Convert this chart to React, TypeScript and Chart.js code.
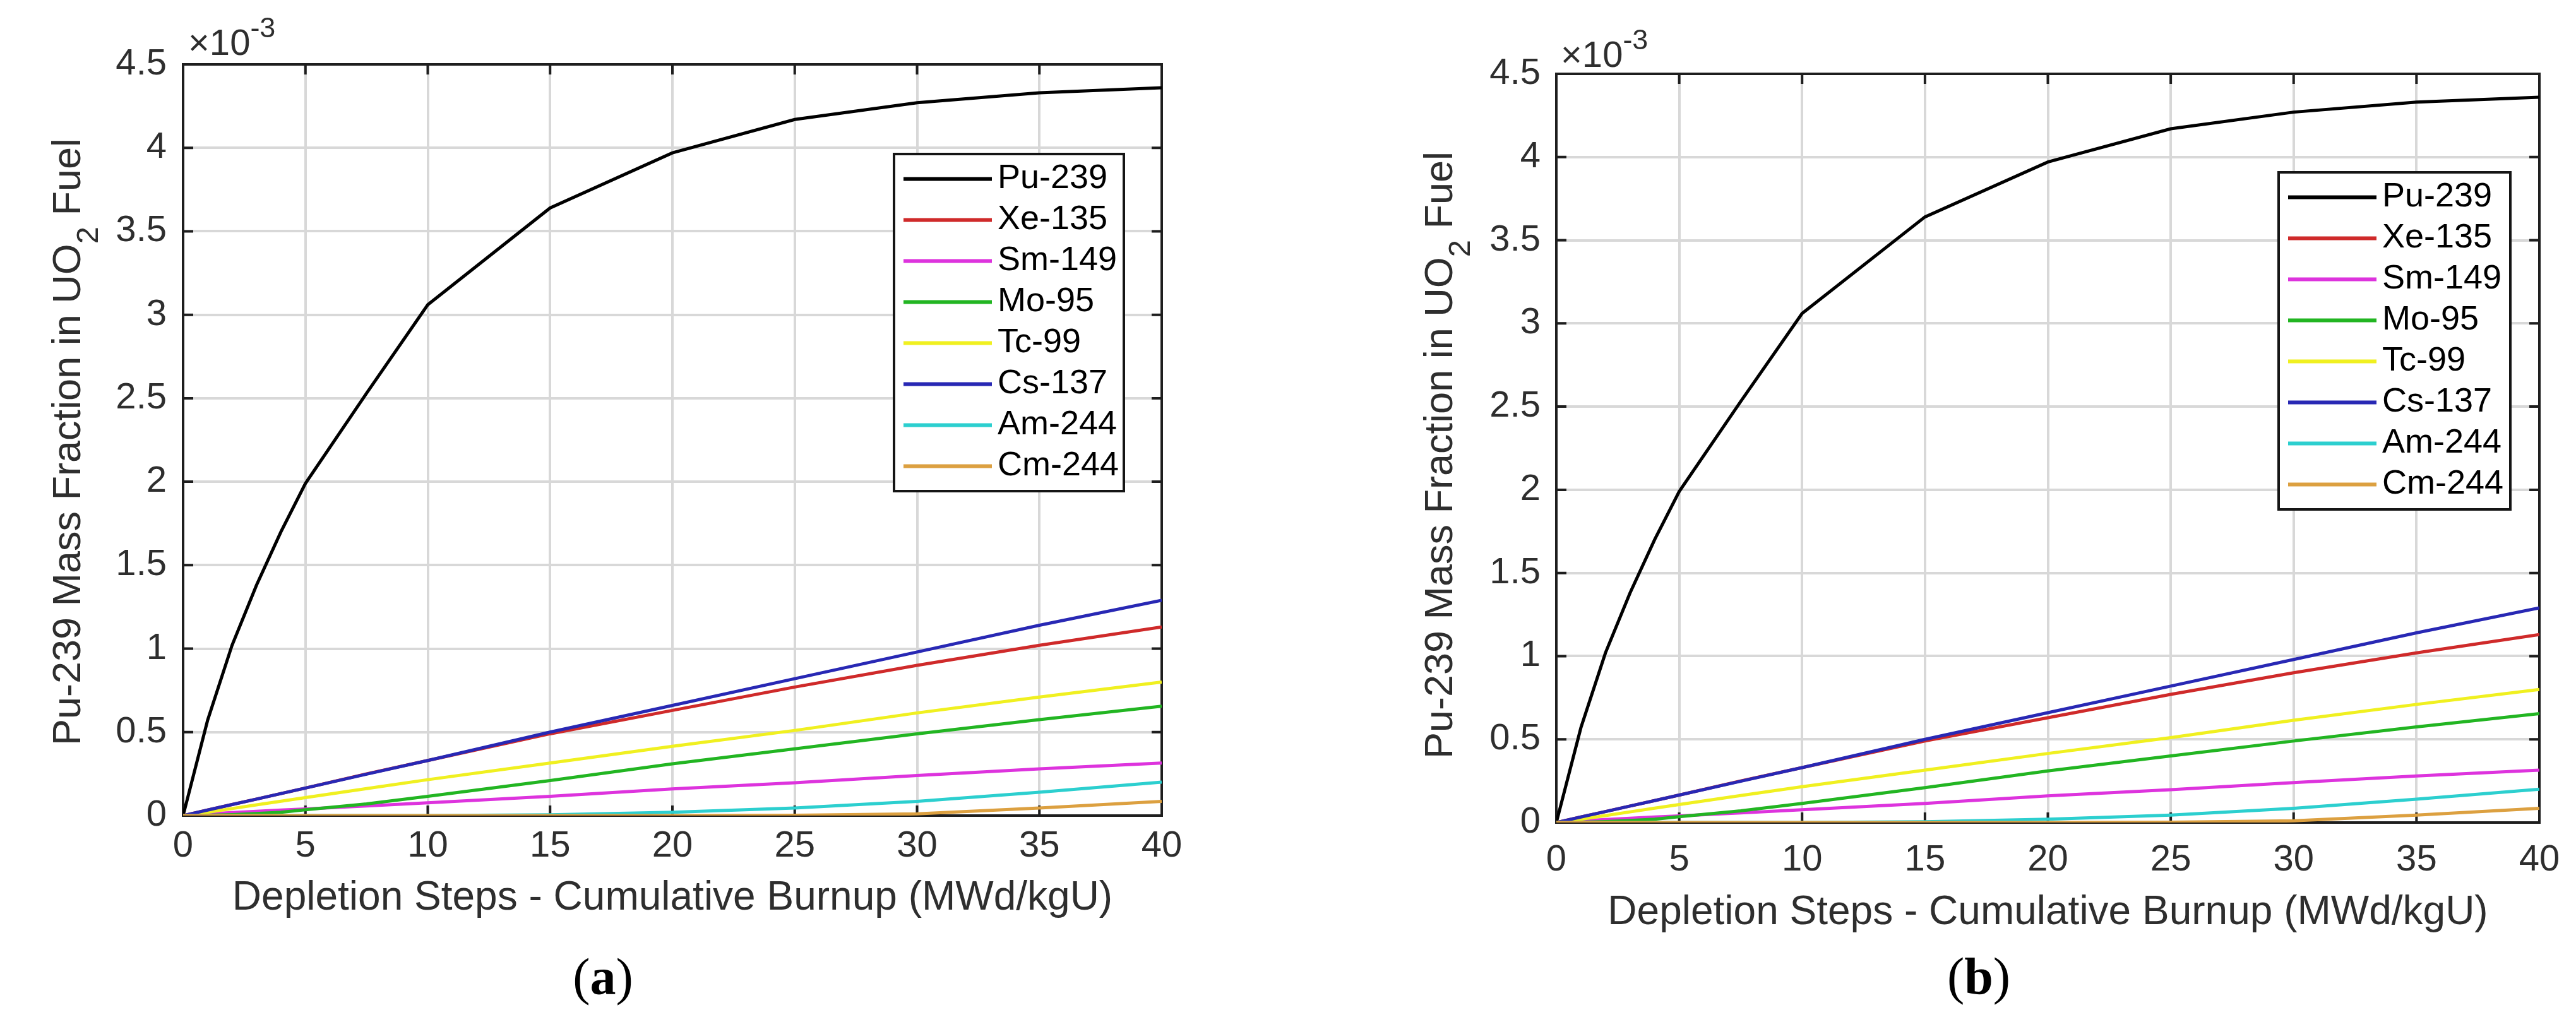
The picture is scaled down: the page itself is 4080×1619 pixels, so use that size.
import React, { useEffect, useRef } from "react";
import { Chart, Plugin, registerables } from "chart.js";

Chart.register(...registerables);

// cumulative burnup at each depletion step (MWd/kgU)
const burnup = [0, 1, 2, 3, 4, 5, 7.5, 10, 15, 20, 25, 30, 35, 40];

// mass fractions in UO2 fuel, in units of 1e-3
const pu239 = [0, 0.57, 1.02, 1.38, 1.7, 1.99, 2.53, 3.06, 3.64, 3.97, 4.17, 4.27, 4.33, 4.36];
const xe135 = [0, 0.033, 0.066, 0.099, 0.132, 0.165, 0.25, 0.33, 0.49, 0.63, 0.77, 0.9, 1.02, 1.13];
const sm149 = [0, 0.01, 0.018, 0.026, 0.033, 0.04, 0.058, 0.077, 0.115, 0.16, 0.197, 0.24, 0.28, 0.315];
const mo95 = [0, 0.002, 0.006, 0.012, 0.02, 0.035, 0.07, 0.115, 0.21, 0.31, 0.4, 0.49, 0.575, 0.655];
const tc99 = [0, 0.02, 0.042, 0.064, 0.086, 0.108, 0.162, 0.215, 0.315, 0.415, 0.51, 0.615, 0.71, 0.8];
const cs137 = [0, 0.033, 0.066, 0.099, 0.132, 0.165, 0.248, 0.33, 0.5, 0.66, 0.82, 0.98, 1.14, 1.29];
const am244 = [0, 0, 0, 0, 0, 0, 0, 0, 0.005, 0.02, 0.045, 0.085, 0.14, 0.2];
const cm244 = [0, 0, 0, 0, 0, 0, 0, 0, 0, 0, 0.002, 0.01, 0.045, 0.085];

const nuclides = ["Pu-239", "Xe-135", "Sm-149", "Mo-95", "Tc-99", "Cs-137", "Am-244", "Cm-244"];
const series = [pu239, xe135, sm149, mo95, tc99, cs137, am244, cm244];
const colors = ["#000000", "#cf2a2a", "#dd33dd", "#22b522", "#f0f020", "#2828b4", "#2ccfcf", "#dca040"];

const xTicks = [0, 5, 10, 15, 20, 25, 30, 35, 40];
const yTicks = [0, 0.5, 1, 1.5, 2, 2.5, 3, 3.5, 4, 4.5];

const xTitle = "Depletion Steps - Cumulative Burnup (MWd/kgU)";
const yTitleHead = "Pu-239 Mass Fraction in UO";
const yTitleSub = "2";
const yTitleTail = " Fuel";

const FONT = "'Liberation Sans', Arial, Helvetica, sans-serif";
const SERIF = "'Liberation Serif', 'Times New Roman', serif";
const TEXT = "#2e2e2e";
const AXIS = "#1e1e1e";
const GRID = "#d8d8d8";
const W = 2040;
const H = 1619;

type PanelGeom = {
  letter: string;
  left: number;
  area: { left: number; right: number; top: number; bottom: number };
  xTickPad: number;
  yTickPad: number;
  xTitleMid: number;
  yTitle: { x: number; y: number };
  exp: { x: number; base: number };
  legend: { x: number; y: number; w: number; h: number };
  caption: { x: number; y: number };
};

const panels: PanelGeom[] = [
  {
    letter: "a",
    left: 0,
    area: { left: 290, right: 1840, top: 102, bottom: 1292 },
    xTickPad: 14,
    yTickPad: 26,
    xTitleMid: 1423,
    yTitle: { x: 127, y: 700 },
    exp: { x: 298, base: 87 },
    legend: { x: 1416, y: 244, w: 364, h: 534 },
    caption: { x: 955, y: 1575 },
  },
  {
    letter: "b",
    left: 2040,
    area: { left: 425, right: 1982, top: 117, bottom: 1303 },
    xTickPad: 25,
    yTickPad: 25,
    xTitleMid: 1446,
    yTitle: { x: 260, y: 721 },
    exp: { x: 432, base: 106 },
    legend: { x: 1569, y: 273, w: 367, h: 534 },
    caption: { x: 1094, y: 1574 },
  },
];

// box, inward ticks, legend, y title with subscript, exponent and caption
const decor = (p: PanelGeom): Plugin<"line"> => ({
  id: "decor" + p.letter,
  beforeDatasetsDraw(chart) {
    const { ctx, chartArea: a } = chart;
    const xs = chart.scales.x;
    const ys = chart.scales.y;
    ctx.save();
    ctx.strokeStyle = AXIS;
    ctx.lineWidth = 4;
    ctx.strokeRect(a.left, a.top, a.right - a.left, a.bottom - a.top);
    const tl = 16;
    ctx.beginPath();
    xTicks.forEach((v) => {
      const px = xs.getPixelForValue(v);
      ctx.moveTo(px, a.bottom);
      ctx.lineTo(px, a.bottom - tl);
      ctx.moveTo(px, a.top);
      ctx.lineTo(px, a.top + tl);
    });
    yTicks.forEach((v) => {
      const py = ys.getPixelForValue(v);
      ctx.moveTo(a.left, py);
      ctx.lineTo(a.left + tl, py);
      ctx.moveTo(a.right, py);
      ctx.lineTo(a.right - tl, py);
    });
    ctx.stroke();
    ctx.restore();
  },
  afterDraw(chart) {
    const { ctx } = chart;
    ctx.save();

    // legend
    const L = p.legend;
    const rowH = 65;
    const first = L.y + (L.h - rowH * (nuclides.length - 1)) / 2;
    ctx.fillStyle = "#ffffff";
    ctx.fillRect(L.x, L.y, L.w, L.h);
    ctx.strokeStyle = "#151515";
    ctx.lineWidth = 4;
    ctx.strokeRect(L.x, L.y, L.w, L.h);
    ctx.font = `54px ${FONT}`;
    ctx.textBaseline = "middle";
    ctx.textAlign = "left";
    nuclides.forEach((name, i) => {
      const cy = first + i * rowH;
      ctx.strokeStyle = colors[i];
      ctx.lineWidth = 6;
      ctx.beginPath();
      ctx.moveTo(L.x + 15, cy);
      ctx.lineTo(L.x + 155, cy);
      ctx.stroke();
      ctx.fillStyle = "#000000";
      ctx.fillText(name, L.x + 164, cy);
    });

    // y axis title with subscript
    ctx.save();
    ctx.translate(p.yTitle.x, p.yTitle.y);
    ctx.rotate(-Math.PI / 2);
    ctx.fillStyle = TEXT;
    ctx.textBaseline = "alphabetic";
    const mainF = `63px ${FONT}`;
    const subF = `49px ${FONT}`;
    ctx.font = mainF;
    const w1 = ctx.measureText(yTitleHead).width;
    const w3 = ctx.measureText(yTitleTail).width;
    ctx.font = subF;
    const w2 = ctx.measureText(yTitleSub).width;
    const start = -(w1 + w2 + w3) / 2;
    ctx.font = mainF;
    ctx.fillText(yTitleHead, start, 0);
    ctx.font = subF;
    ctx.fillText(yTitleSub, start + w1, 28);
    ctx.font = mainF;
    ctx.fillText(yTitleTail, start + w1 + w2, 0);
    ctx.restore();

    // x10^-3 multiplier
    ctx.fillStyle = TEXT;
    ctx.textBaseline = "alphabetic";
    ctx.font = `58px ${FONT}`;
    ctx.fillText("\u00d710", p.exp.x, p.exp.base);
    const wx = ctx.measureText("\u00d710").width;
    ctx.font = `45px ${FONT}`;
    ctx.fillText("-3", p.exp.x + wx, p.exp.base - 28);

    // caption (a) / (b)
    ctx.fillStyle = "#000000";
    const reg = `82px ${SERIF}`;
    const bold = `bold 82px ${SERIF}`;
    ctx.font = reg;
    const wp = ctx.measureText("(").width;
    const wq = ctx.measureText(")").width;
    ctx.font = bold;
    const wl = ctx.measureText(p.letter).width;
    let cx = p.caption.x - (wp + wl + wq) / 2;
    ctx.font = reg;
    ctx.fillText("(", cx, p.caption.y);
    cx += wp;
    ctx.font = bold;
    ctx.fillText(p.letter, cx, p.caption.y);
    cx += wl;
    ctx.font = reg;
    ctx.fillText(")", cx, p.caption.y);

    ctx.restore();
  },
});

const Panel: React.FC<{ geom: PanelGeom }> = ({ geom }) => {
  const canvasRef = useRef<HTMLCanvasElement | null>(null);

  useEffect(() => {
    if (!canvasRef.current) return;
    const a = geom.area;

    const chart = new Chart(canvasRef.current, {
      type: "line",
      data: {
        datasets: nuclides.map((name, i) => ({
          label: name,
          data: burnup.map((x, k) => ({ x, y: series[i][k] })),
          borderColor: colors[i],
          backgroundColor: colors[i],
          borderWidth: 5,
          pointRadius: 0,
          tension: 0,
          fill: false,
          order: -i,
        })),
      },
      options: {
        responsive: false,
        animation: false,
        devicePixelRatio: 1,
        layout: {
          padding: { left: 0, top: a.top, right: W - a.right, bottom: 0 },
        },
        plugins: {
          legend: { display: false },
          tooltip: { enabled: false },
        },
        scales: {
          x: {
            type: "linear",
            min: 0,
            max: 40,
            afterBuildTicks: (s) => {
              s.ticks = xTicks.map((value) => ({ value }));
            },
            afterFit: (s) => {
              s.height = H - a.bottom;
            },
            grid: { color: GRID, lineWidth: 4, drawTicks: false },
            border: { display: false },
            ticks: {
              padding: geom.xTickPad,
              maxRotation: 0,
              autoSkip: false,
              color: TEXT,
              font: { family: FONT, size: 58 },
              callback: (v) => String(v),
            },
            title: {
              display: true,
              text: xTitle,
              color: TEXT,
              font: { family: FONT, size: 64 },
              padding: { top: 0, bottom: H - geom.xTitleMid - 38.4 },
            },
          },
          y: {
            type: "linear",
            min: 0,
            max: 4.5,
            afterBuildTicks: (s) => {
              s.ticks = yTicks.map((value) => ({ value }));
            },
            afterFit: (s) => {
              s.width = a.left;
            },
            grid: { color: GRID, lineWidth: 4, drawTicks: false },
            border: { display: false },
            ticks: {
              padding: geom.yTickPad,
              autoSkip: false,
              color: TEXT,
              font: { family: FONT, size: 58 },
              callback: (v) => String(v),
            },
          },
        },
      },
      plugins: [decor(geom)],
    });

    return () => {
      chart.destroy();
    };
  }, [geom]);

  return (
    <canvas
      ref={canvasRef}
      width={W}
      height={H}
      style={{ position: "absolute", left: geom.left, top: 0, width: W, height: H }}
    />
  );
};

const App: React.FC = () => {
  return (
    <div
      style={{
        position: "absolute",
        left: 0,
        top: 0,
        width: 4080,
        height: 1619,
        background: "#ffffff",
        overflow: "hidden",
      }}
    >
      {panels.map((p) => (
        <Panel key={p.letter} geom={p} />
      ))}
    </div>
  );
};

export default App;
